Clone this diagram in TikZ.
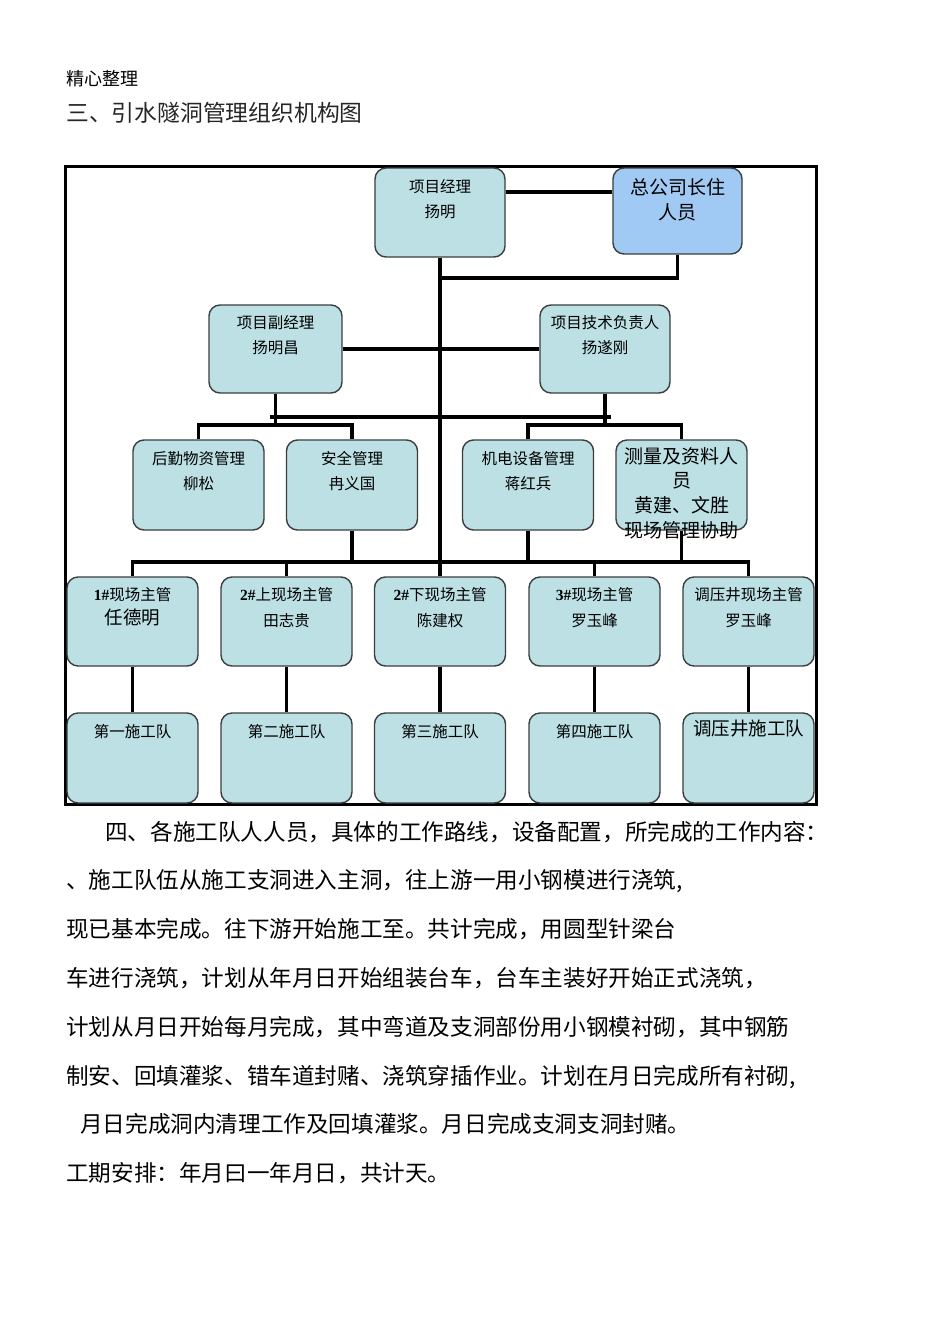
\documentclass[tikz,border=0pt]{standalone}
\usepackage{fontspec}
\setmainfont{Noto Sans CJK SC}
\newfontfamily\tnr{Liberation Serif}
\definecolor{boxfill}{RGB}{188,224,228}
\definecolor{hqfill}{RGB}{160,201,244}
\definecolor{boxline}{RGB}{58,62,62}
\begin{document}
\begin{tikzpicture}[x=1pt,y=-1pt,
  box/.style={draw=boxline,line width=1.4pt,fill=boxfill,rounded corners=11pt,
    minimum width=131pt,minimum height=89pt,inner sep=0pt},
  conn/.style={line width=3.6pt,black},
  ts/.style={inner sep=0pt,anchor=base,font=\fontsize{15.5}{18}\selectfont},
  tl/.style={inner sep=0pt,anchor=base,font=\fontsize{19}{22}\selectfont},
  tm/.style={inner sep=0pt,anchor=base,font=\fontsize{18.5}{22}\selectfont},
  body/.style={inner sep=0pt,anchor=base west,font=\fontsize{22.6}{26}\selectfont},
]
\useasboundingbox (0,0) rectangle (950,1344);
\fill[white] (0,0) rectangle (950,1344);

% header texts
\node[inner sep=0pt,anchor=base west,font=\fontsize{18}{21}\selectfont] (hdr) at (66,85) {精心整理};
\node[inner sep=0pt,anchor=base west,font=\fontsize{22.8}{26}\selectfont,text=black!85] (ttl) at (66,121) {三、引水隧洞管理组织机构图};

% frame
\draw[line width=3pt] (65,166) rectangle (816,804);

% boxes
\node[box,minimum width=130pt] (pm) at (440,212.5) {};
\node[box,fill=hqfill,minimum width=129pt,minimum height=86pt] (hq) at (677.5,211) {};
\node[box,minimum width=133pt,minimum height=88pt] (dpm) at (275.5,349) {};
\node[box,minimum width=130pt,minimum height=88pt] (tech) at (605,349) {};
\node[box,minimum height=90pt] (log) at (198.5,485) {};
\node[box,minimum height=90pt] (safe) at (352,485) {};
\node[box,minimum height=90pt] (mech) at (528,485) {};
\node[box,minimum height=90pt] (surv) at (681.5,485) {};
\node[box] (s1) at (132.5,621.5) {};
\node[box] (s2) at (286.5,621.5) {};
\node[box] (s3) at (440,621.5) {};
\node[box] (s4) at (594.5,621.5) {};
\node[box] (s5) at (748.5,621.5) {};
\node[box,minimum height=90pt] (t1) at (132.5,758) {};
\node[box,minimum height=90pt] (t2) at (286.5,758) {};
\node[box,minimum height=90pt] (t3) at (440,758) {};
\node[box,minimum height=90pt] (t4) at (594.5,758) {};
\node[box,minimum height=90pt] (t5) at (748.5,758) {};

% junction coordinates
\coordinate (j1) at (440,278);
\coordinate (b1) at (270,417);
\coordinate (b2) at (611,417);
\coordinate (bl) at (275.5,425);
\coordinate (br) at (605,425);
\coordinate (b5) at (440,562);

% connectors
\draw[conn] (pm.east |- 0,192) -- (hq.west |- 0,192);
\draw[conn] (pm.south) -- (s3.north);
\draw[conn] (hq.south) |- (j1);
\draw[conn] (dpm.east) -- (tech.west);
\draw[conn] (dpm.south) -- (bl);
\draw[conn] (tech.south) -- (br);
\draw[conn] (b1) -- (b2);
\draw[conn] (log.north) |- (bl) -| (safe.north);
\draw[conn] (mech.north) |- (br) -| (surv.north);
\draw[conn] (s1.north) |- (b5) -| (s5.north);
\draw[conn] (s2.north) -- (s2.north |- b5);
\draw[conn] (s4.north) -- (s4.north |- b5);
\draw[conn] (safe.south) -- (safe.south |- b5);
\draw[conn] (mech.south) -- (mech.south |- b5);
\draw[conn] (surv.south) -- (surv.south |- b5);
\draw[conn] (s1.south) -- (t1.north);
\draw[conn] (s2.south) -- (t2.north);
\draw[conn] (s3.south) -- (t3.north);
\draw[conn] (s4.south) -- (t4.north);
\draw[conn] (s5.south) -- (t5.north);

% box texts
\node[ts] (pm1) at (440,192) {项目经理};
\node[ts] (pm2) at (440,217) {扬明};
\node[tl] (hq1) at (677.5,194) {总公司长住};
\node[tl] (hq2) at (677.5,219) {人员};
\node[ts] (dpm1) at (275.5,328) {项目副经理};
\node[ts] (dpm2) at (275.5,353) {扬明昌};
\node[ts] (te1) at (605,328) {项目技术负责人};
\node[ts] (te2) at (605,353) {扬遂刚};
\node[ts] (lo1) at (198.5,464) {后勤物资管理};
\node[ts] (lo2) at (198.5,489) {柳松};
\node[ts] (sa1) at (352,464) {安全管理};
\node[ts] (sa2) at (352,489) {冉义国};
\node[ts] (me1) at (528,464) {机电设备管理};
\node[ts] (me2) at (528,489) {蒋红兵};
\node[tl] (su1) at (681.5,463) {测量及资料人};
\node[tl] (su2) at (681.5,487) {员};
\node[tl] (su3) at (681.5,512) {黄建、文胜};
\node[tl] (su4) at (681.5,537) {现场管理协助};

\node[ts] (s1a) at (132.5,600) {{\tnr\bfseries 1\#}现场主管};
\node[tm] (s1b) at (132.5,624) {任德明};
\node[ts] (s2a) at (286.5,600) {{\tnr\bfseries 2\#}上现场主管};
\node[ts] (s2b) at (286.5,626) {田志贵};
\node[ts] (s3a) at (440,600) {{\tnr\bfseries 2\#}下现场主管};
\node[ts] (s3b) at (440,626) {陈建权};
\node[ts] (s4a) at (594.5,600) {{\tnr\bfseries 3\#}现场主管};
\node[ts] (s4b) at (594.5,626) {罗玉峰};
\node[ts] (s5a) at (748.5,600) {调压井现场主管};
\node[ts] (s5b) at (748.5,626) {罗玉峰};

\node[ts] (t1a) at (132.5,737) {第一施工队};
\node[ts] (t2a) at (286.5,737) {第二施工队};
\node[ts] (t3a) at (440,737) {第三施工队};
\node[ts] (t4a) at (594.5,737) {第四施工队};
\node[tm] (t5a) at (748.5,735) {调压井施工队};

% body text
\node[body] (p1) at (105,840) {四、各施工队人人员，具体的工作路线，设备配置，所完成的工作内容：};
\node[body] (p2) at (66,888) {、施工队伍从施工支洞进入主洞，往上游一用小钢模进行浇筑,};
\node[body] (p3) at (66,937) {现已基本完成。往下游开始施工至。共计完成，用圆型针梁台};
\node[body] (p4) at (66,986) {车进行浇筑，计划从年月日开始组装台车，台车主装好开始正式浇筑，};
\node[body] (p5) at (66,1035) {计划从月日开始每月完成，其中弯道及支洞部份用小钢模衬砌，其中钢筋};
\node[body] (p6) at (66,1084) {制安、回填灌浆、错车道封赌、浇筑穿插作业。计划在月日完成所有衬砌,};
\node[body] (p7) at (80,1132) {月日完成洞内清理工作及回填灌浆。月日完成支洞支洞封赌。};
\node[body] (p8) at (66,1181) {工期安排：年月曰一年月日，共计天。};
\end{tikzpicture}
\end{document}
